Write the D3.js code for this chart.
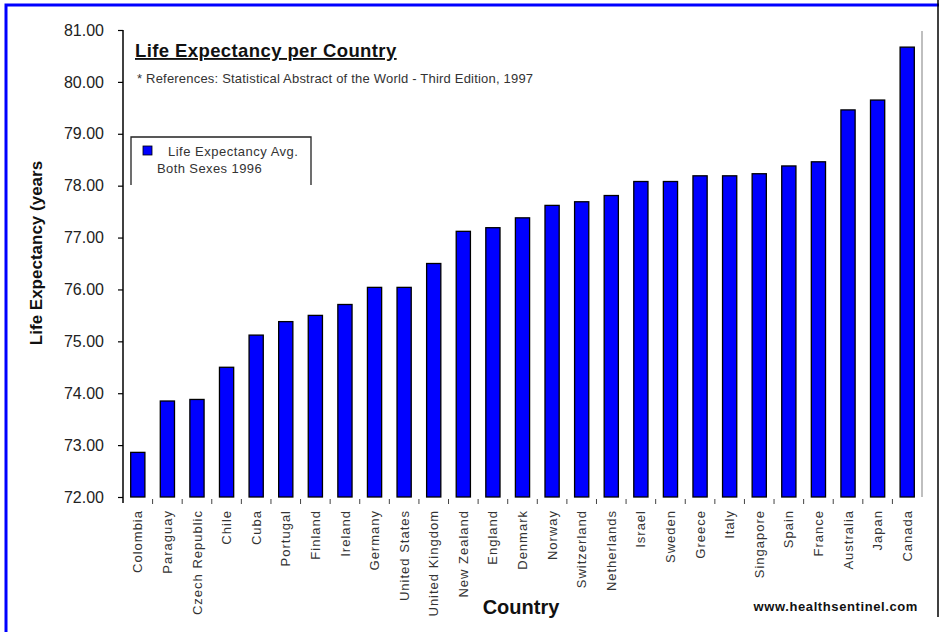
<!DOCTYPE html>
<html><head><meta charset="utf-8">
<script src="https://cdn.jsdelivr.net/npm/d3@7"></script>
<style>body{margin:0;background:#fff}svg{display:block;font-family:"Liberation Sans",Arial,sans-serif}</style>
</head><body><svg id="c" width="939" height="632"></svg>
<script>
const countries = ["Colombia","Paraguay","Czech Republic","Chile","Cuba","Portugal","Finland","Ireland","Germany","United States","United Kingdom","New Zealand","England","Denmark","Norway","Switzerland","Netherlands","Israel","Sweden","Greece","Italy","Singapore","Spain","France","Australia","Japan","Canada"];
const lifeExpectancy = [72.86,73.85,73.88,74.5,75.12,75.38,75.5,75.71,76.04,76.04,76.5,77.12,77.19,77.38,77.62,77.69,77.81,78.08,78.08,78.19,78.19,78.23,78.38,78.46,79.46,79.65,80.67];
const yTicks = [72,73,74,75,76,77,78,79,80,81];
const titleText = "Life Expectancy per Country";
const subtitleText = "* References: Statistical Abstract of the World - Third Edition, 1997";
const legendLines = ["Life Expectancy Avg.","Both Sexes 1996"];

const svg = d3.select("#c");
// frame
svg.append("rect").attr("x",6).attr("y",5).attr("width",940).attr("height",640).attr("fill","none").attr("stroke","#0000ff").attr("stroke-width",3);
svg.append("line").attr("x1",938).attr("x2",938).attr("y1",0).attr("y2",617).attr("stroke","#000").attr("stroke-width",1.5);

const x = d3.scaleBand().domain(countries).range([123,922]).paddingInner(0.52).paddingOuter(0.26);
const y = d3.scaleLinear().domain([72,81]).range([497,30]);

// plot right border
svg.append("line").attr("x1",922).attr("x2",922).attr("y1",31).attr("y2",497).attr("stroke","#aaa").attr("stroke-width",1.5);

// bars
svg.append("g").selectAll("rect").data(countries).join("rect")
  .attr("x",d=>x(d)).attr("width",x.bandwidth())
  .attr("y",(d,i)=>y(lifeExpectancy[i])).attr("height",(d,i)=>y(72)-y(lifeExpectancy[i]))
  .attr("fill","#0000ff").attr("stroke","#000").attr("stroke-width",1.3);

// y axis
const ya = svg.append("g").attr("transform","translate(123,0)")
  .call(d3.axisLeft(y).tickValues(yTicks).tickFormat(d3.format(".2f")).tickSize(5).tickPadding(14));
ya.select(".domain").attr("stroke","#000").attr("stroke-width",1.5).attr("d","M0,30V503");
ya.selectAll(".tick line").attr("stroke","#000").attr("stroke-width",1.2);
ya.selectAll(".tick text").attr("font-size",16).attr("fill","#222").attr("font-family","Liberation Sans, Arial, sans-serif");

// x category ticks between bands
const step = x.step();
svg.append("g").selectAll("line").data(countries.slice(1)).join("line")
  .attr("x1",d=>x(d)-step*0.26).attr("x2",d=>x(d)-step*0.26)
  .attr("y1",499).attr("y2",504).attr("stroke","#444").attr("stroke-width",1);

// x labels
svg.append("g").selectAll("text").data(countries).join("text")
  .attr("transform",d=>`translate(${x(d)+x.bandwidth()/2},510) rotate(-90)`)
  .attr("text-anchor","end").attr("dy","0.35em")
  .attr("font-size",13).attr("letter-spacing",1).attr("fill","#333").text(d=>d);

// titles
svg.append("text").attr("x",135).attr("y",57).attr("font-size",18.5).attr("letter-spacing",0.4).attr("font-weight","bold")
  .attr("text-decoration","underline").attr("fill","#111").text(titleText);
svg.append("text").attr("x",137).attr("y",83).attr("font-size",13).attr("letter-spacing",0.2).attr("fill","#333").text(subtitleText);

// legend
svg.append("path").attr("d","M131,185V137H311V185").attr("fill","none").attr("stroke","#222").attr("stroke-width",1.3);
svg.append("rect").attr("x",143).attr("y",146).attr("width",9).attr("height",9).attr("fill","#0000ff").attr("stroke","#000").attr("stroke-width",0.8);
svg.append("text").attr("x",168).attr("y",156).attr("font-size",13).attr("letter-spacing",0.5).attr("fill","#333").text(legendLines[0]);
svg.append("text").attr("x",157).attr("y",173).attr("font-size",13).attr("letter-spacing",0.4).attr("fill","#333").text(legendLines[1]);

// axis titles
svg.append("text").attr("transform","translate(42,253) rotate(-90)").attr("text-anchor","middle")
  .attr("font-size",17).attr("font-weight","bold").attr("fill","#111").text("Life Expectancy (years");
svg.append("text").attr("x",521).attr("y",614).attr("text-anchor","middle")
  .attr("font-size",20).attr("font-weight","bold").attr("fill","#111").text("Country");
svg.append("text").attr("x",918).attr("y",611).attr("text-anchor","end")
  .attr("font-size",13).attr("letter-spacing",0.6).attr("font-weight","bold").attr("fill","#111").text("www.healthsentinel.com");
</script></body></html>
